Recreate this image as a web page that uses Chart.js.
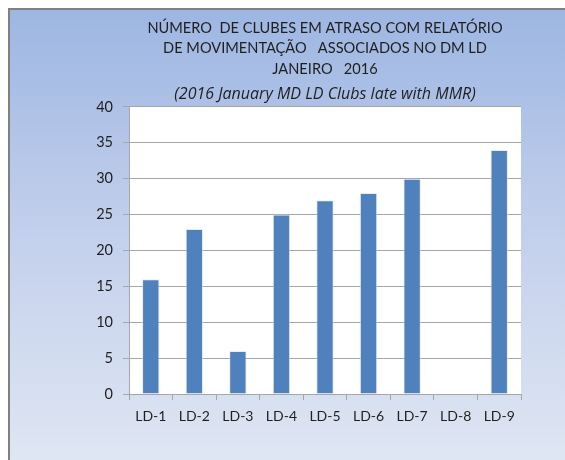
<!DOCTYPE html>
<html>
<head>
<meta charset="utf-8">
<script src="https://cdn.jsdelivr.net/npm/chart.js@4/dist/chart.umd.min.js"></script>
<style>
  html, body { margin: 0; padding: 0; background: #fff; }
  #wrap { width: 565px; height: 460px; }
</style>
</head>
<body>
<div id="wrap"><canvas id="c" width="565" height="460"></canvas></div>
<script>
// Data
const districts = ['LD-1', 'LD-2', 'LD-3', 'LD-4', 'LD-5', 'LD-6', 'LD-7', 'LD-8', 'LD-9'];
const lateClubs = [16, 23, 6, 25, 27, 28, 30, null, 34];
const titleLines = [
  'NÚMERO  DE CLUBES EM ATRASO COM RELATÓRIO',
  'DE MOVIMENTAÇÃO   ASSOCIADOS NO DM LD',
  'JANEIRO   2016'
];
const subtitleText = '(2016 January MD LD Clubs late with MMR)';

const FONT = "Lato, 'Open Sans', sans-serif";
const TEXT = '#1f1f1f';

// gradient frame behind everything, white plot area on top of it
const backdrop = {
  id: 'backdrop',
  beforeDraw(chart) {
    const { ctx, width, height, chartArea: a } = chart;
    ctx.save();
    const g = ctx.createLinearGradient(0, 8, 0, height);
    g.addColorStop(0, '#9db6e2');
    g.addColorStop(0.5, '#c3d0ec');
    g.addColorStop(1, '#dfe6f3');
    ctx.fillStyle = g;
    ctx.fillRect(8, 8, width, height);
    ctx.strokeStyle = '#808080';
    ctx.lineWidth = 2;
    ctx.beginPath();
    ctx.moveTo(9, height + 2);
    ctx.lineTo(9, 9);
    ctx.lineTo(width + 2, 9);
    ctx.stroke();
    ctx.fillStyle = '#ffffff';
    ctx.fillRect(a.left, a.top, a.right - a.left, a.bottom - a.top);
    ctx.restore();
  }
};

new Chart(document.getElementById('c'), {
  type: 'bar',
  data: {
    labels: districts,
    datasets: [{
      data: lateClubs,
      backgroundColor: '#4f81bd',
      borderColor: 'rgba(220,230,245,0.7)',
      borderWidth: 1,
      categoryPercentage: 1,
      barPercentage: 0.4,
    }],
  },
  options: {
    responsive: false,
    animation: false,
    layout: { padding: { left: 0, right: 44, top: 0, bottom: 0 } },
    plugins: {
      legend: { display: false },
      tooltip: { enabled: false },
      title: {
        display: true,
        text: titleLines,
        fullSize: false,
        color: TEXT,
        font: { family: FONT, size: 14.6, weight: 'normal', lineHeight: 1.4 },
        padding: { top: 18, bottom: 0 },
      },
      subtitle: {
        display: true,
        text: subtitleText,
        fullSize: false,
        color: TEXT,
        font: { family: "'Open Sans', sans-serif", size: 16, style: 'italic', lineHeight: 1.1 },
        padding: { top: 6, bottom: 4 },
      },
    },
    scales: {
      x: {
        afterFit(s) { s.height = 66; },
        grid: { drawOnChartArea: false, drawTicks: true, tickLength: 6, color: '#a6a6a6', offset: true },
        border: { color: '#a6a6a6', width: 1 },
        ticks: { color: TEXT, padding: 8, font: { family: FONT, size: 14 } },
      },
      y: {
        min: 0,
        max: 40,
        afterFit(s) { s.width = 129; },
        grid: { color: '#a6a6a6', tickLength: 6, drawTicks: true },
        border: { color: '#a6a6a6', width: 1 },
        ticks: { stepSize: 5, color: TEXT, padding: 10, font: { family: FONT, size: 14.5 } },
      },
    },
  },
  plugins: [backdrop],
});
</script>
</body>
</html>
